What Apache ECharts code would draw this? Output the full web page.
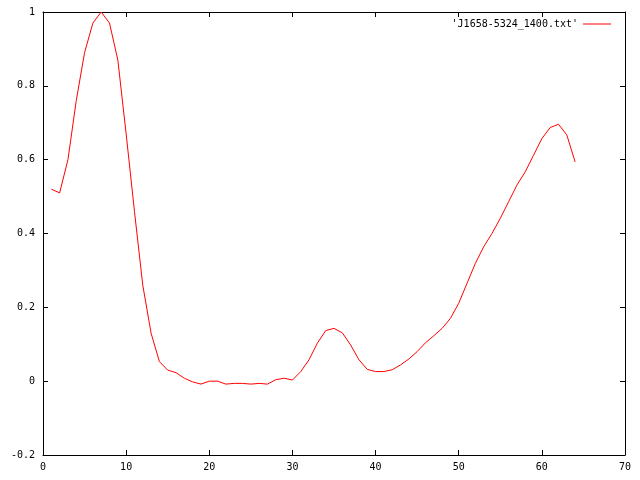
<!DOCTYPE html>
<html><head><meta charset="utf-8">
<script src="https://cdn.jsdelivr.net/npm/echarts@6/dist/echarts.min.js"></script>
<style>html,body{margin:0;padding:0;background:#fff}#c{width:640px;height:480px}</style>
</head><body><div id="c"></div>
<script>
const seriesName = "'J1658-5324_1400.txt'";
const xValues = [1,2,3,4,5,6,7,8,9,10,11,12,13,14,15,16,17,18,19,20,21,22,23,24,25,26,27,28,29,30,31,32,33,34,35,36,37,38,39,40,41,42,43,44,45,46,47,48,49,50,51,52,53,54,55,56,57,58,59,60,61,62,63,64];
const yValues = [0.52,0.51,0.60,0.76,0.89,0.97,1.0,0.97,0.87,0.67,0.46,0.26,0.13,0.053,0.03,0.023,0.008,-0.002,-0.008,0.0,0.0,-0.008,-0.006,-0.006,-0.008,-0.006,-0.008,0.004,0.008,0.003,0.026,0.058,0.103,0.137,0.143,0.131,0.098,0.058,0.032,0.026,0.026,0.031,0.044,0.06,0.08,0.104,0.123,0.143,0.17,0.211,0.265,0.319,0.364,0.40,0.441,0.486,0.531,0.567,0.612,0.657,0.687,0.696,0.667,0.594];
const xTicks = {min:0,max:70,interval:10};
const yTicks = {min:-0.2,max:1,interval:0.2};

const font = {fontFamily:'DejaVu Sans Mono', fontSize:10, color:'#000'};
const chart = echarts.init(document.getElementById('c'), null, {renderer:'canvas'});
const axisCommon = {
  axisLine:{show:true,onZero:false,lineStyle:{color:'#000',width:1}},
  axisTick:{show:true,inside:true,length:5,lineStyle:{color:'#000'}},
  splitLine:{show:false}
};
chart.setOption({
  animation:false,
  backgroundColor:'#fff',
  grid:{left:43,right:15,top:12,bottom:25,containLabel:false},
  legend:{show:true,right:24,top:14,align:'right',itemWidth:28,itemHeight:1,itemGap:8,
    textStyle:Object.assign({},font),
    data:[{name:seriesName,icon:'rect',itemStyle:{color:'#ff0000'}}]},
  xAxis:[
    Object.assign({type:'value',position:'bottom',min:xTicks.min,max:xTicks.max,interval:xTicks.interval,
      axisLabel:Object.assign({margin:7},font)},axisCommon),
    Object.assign({type:'value',position:'top',min:xTicks.min,max:xTicks.max,interval:xTicks.interval,
      axisLabel:{show:false}},axisCommon)
  ],
  yAxis:[
    Object.assign({type:'value',position:'left',min:yTicks.min,max:yTicks.max,interval:yTicks.interval,
      axisLabel:Object.assign({margin:8},font)},axisCommon),
    Object.assign({type:'value',position:'right',min:yTicks.min,max:yTicks.max,interval:yTicks.interval,
      axisLabel:{show:false}},axisCommon)
  ],
  series:[{
    name:seriesName,type:'line',xAxisIndex:0,yAxisIndex:0,
    data:xValues.map((x,i)=>[x,yValues[i]]),
    showSymbol:false,symbol:'none',
    lineStyle:{color:'#ff0000',width:1},itemStyle:{color:'#ff0000'}
  }]
});
</script></body></html>
